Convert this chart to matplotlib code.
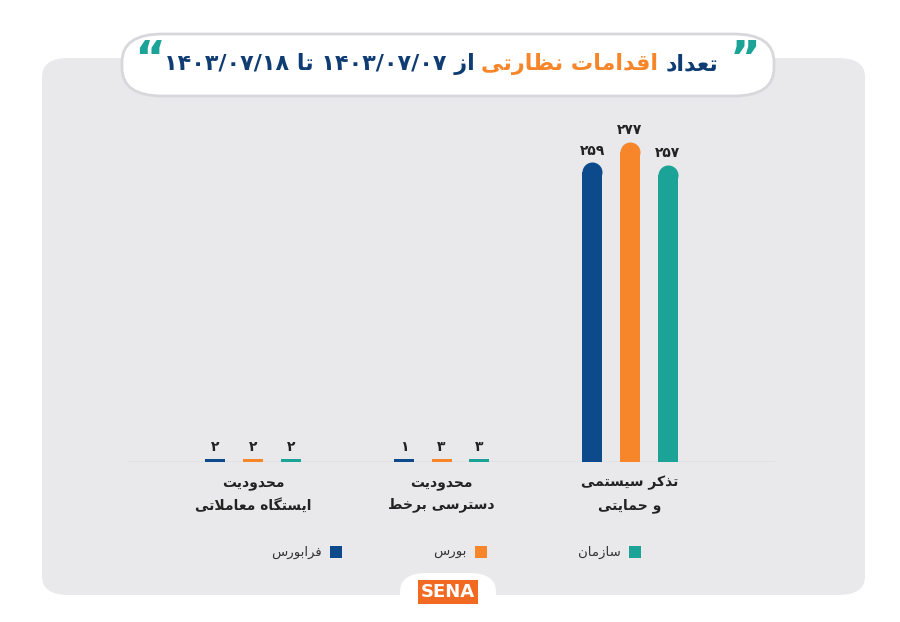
import re
import matplotlib
matplotlib.use("Agg")
import matplotlib.pyplot as plt
from matplotlib.patches import FancyBboxPatch, Rectangle

categories = [["محدودیت", "ایستگاه معاملاتی"], ["محدودیت", "دسترسی برخط"], ["تذکر سیستمی", "و حمایتی"]]
series_names = ["فرابورس", "بورس", "سازمان"]
farabourse = [2, 1, 259]
bourse = [2, 3, 277]
sazman = [2, 3, 257]
values = [farabourse, bourse, sazman]
colors = ["#0d4a8c", "#f7852a", "#1aa396"]
DARK = "#0f3d73"

FORMS = {
    'ا': (0xFE8D, 0xFE8E, None, None), 'ب': (0xFE8F, 0xFE90, 0xFE91, 0xFE92),
    'ت': (0xFE95, 0xFE96, 0xFE97, 0xFE98), 'ح': (0xFEA1, 0xFEA2, 0xFEA3, 0xFEA4),
    'خ': (0xFEA5, 0xFEA6, 0xFEA7, 0xFEA8), 'د': (0xFEA9, 0xFEAA, None, None),
    'ذ': (0xFEAB, 0xFEAC, None, None), 'ر': (0xFEAD, 0xFEAE, None, None),
    'ز': (0xFEAF, 0xFEB0, None, None), 'س': (0xFEB1, 0xFEB2, 0xFEB3, 0xFEB4),
    'ط': (0xFEC1, 0xFEC2, 0xFEC3, 0xFEC4), 'ظ': (0xFEC5, 0xFEC6, 0xFEC7, 0xFEC8),
    'ع': (0xFEC9, 0xFECA, 0xFECB, 0xFECC), 'ف': (0xFED1, 0xFED2, 0xFED3, 0xFED4),
    'ق': (0xFED5, 0xFED6, 0xFED7, 0xFED8), 'ل': (0xFEDD, 0xFEDE, 0xFEDF, 0xFEE0),
    'م': (0xFEE1, 0xFEE2, 0xFEE3, 0xFEE4), 'ن': (0xFEE5, 0xFEE6, 0xFEE7, 0xFEE8),
    'ه': (0xFEE9, 0xFEEA, 0xFEEB, 0xFEEC), 'و': (0xFEED, 0xFEEE, None, None),
    'ی': (0xFBFC, 0xFBFD, 0xFBFE, 0xFBFF), 'ک': (0xFB8E, 0xFB8F, 0xFB90, 0xFB91),
    'گ': (0xFB92, 0xFB93, 0xFB94, 0xFB95),
}

def shape(s):
    out = []
    i = 0
    n = len(s)
    while i < n:
        c = s[i]
        if c not in FORMS:
            out.append(c); i += 1; continue
        prev = s[i-1] if i > 0 else ''
        jp = prev in FORMS and FORMS[prev][2] is not None
        if c == 'ل' and i + 1 < n and s[i+1] == 'ا':
            out.append(chr(0xFEFC if jp else 0xFEFB)); i += 2; continue
        nxt = s[i+1] if i + 1 < n else ''
        jn = FORMS[c][2] is not None and nxt in FORMS
        f = FORMS[c]
        if jp and jn: ch = f[3]
        elif jp: ch = f[1]
        elif jn: ch = f[2]
        else: ch = f[0]
        out.append(chr(ch)); i += 1
    vis = ''.join(out)[::-1]
    return re.sub(r'[0-9۰-۹/]+', lambda m: m.group(0)[::-1], vis)

def fa(num):
    return str(num).translate(str.maketrans("0123456789", "۰۱۲۳۴۵۶۷۸۹"))

plt.rcParams['font.family'] = ['DejaVu Sans']
fig = plt.figure(figsize=(9, 6.22), dpi=100)
fig.patch.set_facecolor("white")
W, H = 900, 622
def fx(x): return x / W
def fy(y): return 1 - y / H

fig.patches.append(FancyBboxPatch((fx(42), fy(595)), fx(823), 537 / H,
    boxstyle="round,pad=0,rounding_size=0.03", transform=fig.transFigure,
    facecolor="#e9e8ea", edgecolor="none", zorder=0))
fig.patches.append(FancyBboxPatch((fx(122), fy(96)), fx(652), 62 / H,
    boxstyle="round,pad=0,rounding_size=0.045", transform=fig.transFigure,
    facecolor="white", edgecolor="#d8d8dc", linewidth=2, zorder=1))
fig.patches.append(FancyBboxPatch((fx(400), fy(615)), fx(96), 42 / H,
    boxstyle="round,pad=0,rounding_size=0.03", transform=fig.transFigure,
    facecolor="white", edgecolor="none", zorder=1))

ax = fig.add_axes([fx(128), fy(462), fx(775 - 128), (462 - 100) / H])
ax.set_zorder(5)
ax.set_facecolor("none")
ax.patch.set_alpha(0)
for sp in ax.spines.values():
    sp.set_visible(False)
ax.set_xticks([]); ax.set_yticks([])
ax.set_xlim(-0.663, 2.769)
ax.set_ylim(0, 313)
ax.axhline(0, color="#c4c4c8", linewidth=1, zorder=1)

R = 10 * 313 / 362  # cap radius in data units (10 px)
xs = [0, 1, 2]
offs = [-0.2, 0, 0.2]
for k in range(3):
    for j, x in enumerate(xs):
        v = values[k][j]
        xb = x + offs[k]
        if v > 3 * R:
            ax.bar(xb, v - R, width=0.106, color=colors[k], zorder=3)
            ax.plot([xb], [v - R], marker="o", markersize=14.4,
                    color=colors[k], markeredgewidth=0, zorder=3)
        else:
            ax.bar(xb, max(v, 2.5), width=0.106, color=colors[k], zorder=3)
        ax.text(xb, max(v, 2.5) + 4, fa(v), ha="center", va="bottom",
                fontsize=10, fontweight="bold", color="#222222")
for j, x in enumerate(xs):
    ax.text(x, -12, shape(categories[j][0]) + "\n" + shape(categories[j][1]),
            ha="center", va="top", fontsize=10, fontweight="bold",
            color="#222222", linespacing=1.7, clip_on=False)

leg_x = [635, 481, 336]
order = [2, 1, 0]
for px, k in zip(leg_x, order):
    fig.patches.append(Rectangle((fx(px - 6), fy(558)), fx(12), 12 / H,
        transform=fig.transFigure, facecolor=colors[k], edgecolor="none"))
    fig.text(fx(px - 14), fy(552), shape(series_names[k]), ha="right",
             va="center", fontsize=9.5, color="#333333")

fig.canvas.draw()
r = fig.canvas.get_renderer()
pieces = [("تعداد", DARK), ("اقدامات نظارتی", "#f7852a"),
          ("از ۱۴۰۳/۰۷/۰۷ تا ۱۴۰۳/۰۷/۱۸", DARK)]
xr = 718
fig.text(fx(745), fy(62), "\u201D", fontsize=34, color="#1aa396",
         fontweight="bold", ha="center", va="center")
fig.text(fx(150), fy(62), "\u201C", fontsize=34, color="#1aa396",
         fontweight="bold", ha="center", va="center")
for txt, col in pieces:
    t = fig.text(fx(xr), fy(64), shape(txt), ha="right", va="center",
                 fontsize=16, fontweight="bold", color=col)
    bb = t.get_window_extent(r)
    xr -= bb.width + 7

fig.text(fx(448), fy(592), "SENA", ha="center", va="center", fontsize=13,
         fontweight="bold", color="white",
         bbox=dict(boxstyle="square,pad=0.15", facecolor="#f26a21", edgecolor="none"))

fig.savefig("out.png", dpi=100)
